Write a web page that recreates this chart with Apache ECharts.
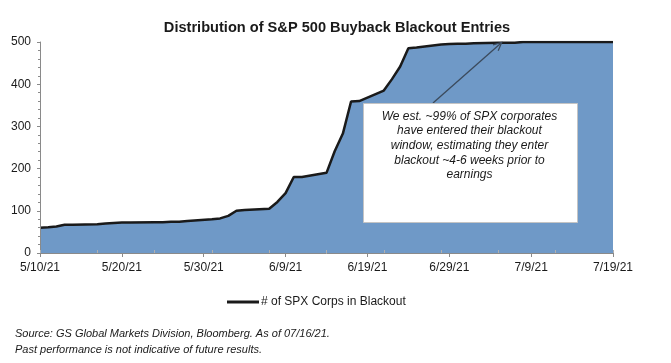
<!DOCTYPE html>
<html>
<head>
<meta charset="utf-8">
<script src="https://cdn.jsdelivr.net/npm/echarts@6/dist/echarts.min.js"></script>
<style>
html,body{margin:0;padding:0;background:#fff;}
#chart{width:671px;height:363px;}
</style>
</head>
<body>
<div id="chart"></div>
<script>
const startDate = '2021-05-10';
const dates = [
  '2021-05-10','2021-05-11','2021-05-12','2021-05-13','2021-05-14',
  '2021-05-17','2021-05-18','2021-05-19','2021-05-20','2021-05-21',
  '2021-05-24','2021-05-25','2021-05-26','2021-05-27','2021-05-28',
  '2021-05-31','2021-06-01','2021-06-02','2021-06-03','2021-06-04',
  '2021-06-07','2021-06-08','2021-06-09','2021-06-10','2021-06-11',
  '2021-06-14','2021-06-15','2021-06-16','2021-06-17','2021-06-18',
  '2021-06-21','2021-06-22','2021-06-23','2021-06-24','2021-06-25',
  '2021-06-28','2021-06-29','2021-06-30','2021-07-01','2021-07-02',
  '2021-07-05','2021-07-06','2021-07-07','2021-07-08','2021-07-09',
  '2021-07-12','2021-07-13','2021-07-14','2021-07-15','2021-07-16',
  '2021-07-19'
];
const blackoutCounts = [
  60,61,63,67,67,
  68,70,71,72,72,
  73,73,74,74,76,
  80,82,88,100,102,
  105,121,142,180,180,
  190,241,283,359,360,
  385,412,442,485,487,
  494,495,496,496,497,
  498,498,498,500,500,
  500,500,500,500,500,
  500
];
const xTickLabels = ['5/10/21','5/20/21','5/30/21','6/9/21','6/19/21','6/29/21','7/9/21','7/19/21'];
const yTicks = [0,100,200,300,400,500];
const seriesName = '# of SPX Corps in Blackout';
const titleText = 'Distribution of S&P 500 Buyback Blackout Entries';
const noteText = 'We est. ~99% of SPX corporates\nhave entered their blackout\nwindow, estimating they enter\nblackout ~4-6 weeks prior to\nearnings';
const sourceLines = ['Source: GS Global Markets Division, Bloomberg. As of 07/16/21.','Past performance is not indicative of future results.'];

const DAY = 86400000;
const t0 = Date.parse(startDate);
const dayOffsets = dates.map(d => Math.round((Date.parse(d) - t0) / DAY));
const seriesData = dayOffsets.map((x, i) => [x, blackoutCounts[i]]);
const xMax = (xTickLabels.length - 1) * 10;

const FONT = '"Liberation Sans", Arial, sans-serif';
const chart = echarts.init(document.getElementById('chart'));

const option = {
  animation: false,
  backgroundColor: '#ffffff',
  title: {
    text: titleText,
    left: 332, top: 15, textAlign: 'center',
    textStyle: {fontFamily: FONT, fontSize: 14.6, fontWeight: 'bold', color: '#1a1a1a'}
  },
  legend: {
    left: 222, top: 291,
    icon: 'rect', itemWidth: 32, itemHeight: 3,
    data: [{name: seriesName, itemStyle: {color: '#1a1a1a'}}],
    textStyle: {fontFamily: FONT, fontSize: 12, color: '#1a1a1a', padding: [0,0,0,-3]}
  },
  grid: {left: 40, right: 58, top: 42, bottom: 110, containLabel: false},
  xAxis: [{
    type: 'value', min: 0, max: xMax, interval: 10,
    axisLine: {show: true, lineStyle: {color: '#8a8a8a', width: 1}},
    axisTick: {show: true, length: 4, lineStyle: {color: '#8a8a8a'}},
    splitLine: {show: false},
    axisLabel: {
      margin: 9, fontFamily: FONT, fontSize: 12, color: '#1a1a1a',
      formatter: v => xTickLabels[Math.round(v / 10)] || ''
    },
    z: 10
  }, {
    type: 'value', min: 0, max: xMax, interval: 7,
    position: 'top', offset: -211,
    axisLine: {show: false},
    axisTick: {show: true, inside: false, length: 3, lineStyle: {color: '#b0b0b0'}},
    axisLabel: {show: false},
    splitLine: {show: false},
    z: 10
  }],
  yAxis: {
    type: 'value', min: yTicks[0], max: yTicks[yTicks.length - 1], interval: 100,
    axisLine: {show: true, lineStyle: {color: '#8a8a8a', width: 1}},
    axisTick: {show: true, length: 3, lineStyle: {color: '#8a8a8a'}},
    minorTick: {show: true, splitNumber: 5, length: 2, lineStyle: {color: '#8a8a8a'}},
    splitLine: {show: false},
    axisLabel: {margin: 9, fontFamily: FONT, fontSize: 12, color: '#1a1a1a'},
    z: 10
  },
  series: [{
    name: seriesName,
    type: 'line',
    data: seriesData,
    showSymbol: false,
    symbol: 'none',
    itemStyle: {color: '#1a1a1a'},
    lineStyle: {color: '#1a1a1a', width: 2.5},
    areaStyle: {color: '#6f99c7', opacity: 1},
    z: 2
  }]
};
chart.setOption(option);

// annotation box, arrow and source notes
const tip = chart.convertToPixel({xAxisIndex: 0, yAxisIndex: 0}, [56.4, 499]);
const box = {x: 363, y: 103, w: 214, h: 119};
const tail = [box.x + box.w / 2 - 37, box.y];
const ang = Math.atan2(tip[1] - tail[1], tip[0] - tail[0]);
const hl = 9, ha = 0.45;
const w1 = [tip[0] - hl * Math.cos(ang - ha), tip[1] - hl * Math.sin(ang - ha)];
const w2 = [tip[0] - hl * Math.cos(ang + ha), tip[1] - hl * Math.sin(ang + ha)];
const arrowStyle = {stroke: '#3b4a5c', lineWidth: 1.3, fill: null};

chart.setOption({
  graphic: [
    {type: 'polyline', z: 50, shape: {points: [tail, tip]}, style: arrowStyle},
    {type: 'polyline', z: 50, shape: {points: [w1, tip, w2]}, style: arrowStyle},
    {type: 'rect', z: 50, shape: {x: box.x + 0.5, y: box.y + 0.5, width: box.w, height: box.h},
      style: {fill: '#ffffff', stroke: '#c4c4c4', lineWidth: 1}},
    {type: 'text', z: 51, x: box.x + box.w / 2 - 0.5, y: box.y + 6,
      style: {text: noteText, fontFamily: FONT, fontSize: 12, fontStyle: 'italic',
        fill: '#1a1a1a', align: 'center', verticalAlign: 'top', lineHeight: 14.7}},
    {type: 'text', z: 51, x: 15, y: 334,
      style: {text: sourceLines[0], fontFamily: FONT, fontSize: 11, fontStyle: 'italic',
        fill: '#1a1a1a', verticalAlign: 'middle'}},
    {type: 'text', z: 51, x: 15, y: 349.5,
      style: {text: sourceLines[1], fontFamily: FONT, fontSize: 11, fontStyle: 'italic',
        fill: '#1a1a1a', verticalAlign: 'middle'}}
  ]
});
</script>
</body>
</html>
